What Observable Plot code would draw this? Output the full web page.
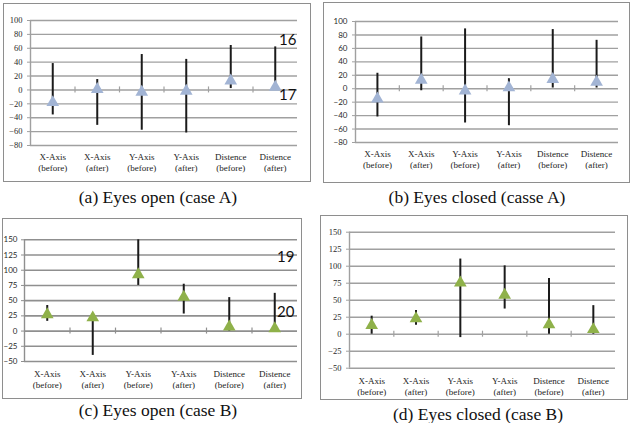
<!DOCTYPE html>
<html>
<head>
<meta charset="utf-8">
<script src="https://cdn.jsdelivr.net/npm/d3@7"></script>
<script src="https://cdn.jsdelivr.net/npm/@observablehq/plot@0.6"></script>
<style>
  html, body { margin: 0; padding: 0; background: #fff; }
  #fig { position: relative; width: 630px; height: 423px; overflow: hidden; background: #fff; }
  .panel { position: absolute; }
  .panel svg { position: absolute; left: 0; top: 0; }
  .box { position: absolute; border: 1.5px solid #8e8e8e; box-sizing: border-box; pointer-events: none; }
  .cap { position: absolute; font-family: "Liberation Serif", "Times New Roman", "DejaVu Serif"; font-size: 17.5px; line-height: 1; white-space: nowrap; color: #111; transform: translate(-50%, -50%); }
  .num { position: absolute; font-family: Lato, "Noto Sans", sans-serif; font-size: 15px; line-height: 1; color: #111; transform: translate(0, -50%); }
</style>
</head>
<body>
<div id="fig"></div>
<script>
// ---- shared categories (x tick labels) ----
const categories = ["X-Axis\n(before)", "X-Axis\n(after)", "Y-Axis\n(before)", "Y-Axis\n(after)", "Distence\n(before)", "Distence\n(after)"];
const categoryCenters = [0.5, 1.5, 2.5, 3.5, 4.5, 5.5];
const categoryBoundaries = [1, 2, 3, 4, 5];

// ---- y tick labels ----
const ticksCaseA = [-80, -60, -40, -20, 0, 20, 40, 60, 80, 100];
const ticksCaseB = [-50, -25, 0, 25, 50, 75, 100, 125, 150];

// ---- (a) Eyes open (case A) ----
const openA_mean = [-18, 1, -3, -1.5, 13, 4];
const openA_low  = [-36, -51, -58, -62, 2, 2];
const openA_high = [38, 15, 51, 44, 64, 62];

// ---- (b) Eyes closed (casse A) ----
const closedA_mean = [-15, 13, -3, 1.5, 14, 10];
const closedA_low  = [-42, -3, -51, -55, 1, 1];
const closedA_high = [23, 77, 89, 15, 88, 72];

// ---- (c) Eyes open (case B) ----
const openB_mean = [27, 22, 93, 56, 7, 4];
const openB_low  = [16, -40, 75, 28, 0, 0];
const openB_high = [42, 24, 150, 77, 55, 62];

// ---- (d) Eyes closed (case B) ----
const closedB_mean = [13, 23, 75.5, 57.5, 14, 7];
const closedB_low  = [0, 13, -5, 37, 0, 0];
const closedB_high = [26.5, 35, 110.5, 100.5, 82, 42];

const serif = "Liberation Serif";
const sans = "Lato";

function table(mean, low, high) {
  return categoryCenters.map((pos, i) => ({pos, mean: mean[i], low: low[i], high: high[i]}));
}

function panel(cfg) {
  const data = table(cfg.mean, cfg.low, cfg.high);
  const grid = cfg.grid || "#a0a0a0";
  return Plot.plot({
    width: cfg.w, height: cfg.h,
    marginLeft: cfg.ml, marginRight: cfg.mr, marginTop: cfg.mt, marginBottom: cfg.mb,
    style: {background: "transparent", overflow: "visible", color: "#222", fontFamily: cfg.tickFont, fontSize: cfg.tickSize + "px"},
    x: {domain: [0, 6], axis: null},
    y: {domain: cfg.domain, axis: null},
    marks: [
      Plot.gridY(cfg.ticks, {stroke: grid, strokeOpacity: 1, strokeWidth: cfg.gridWidth || 1.4}),
      Plot.ruleX([0], {stroke: grid, strokeWidth: 1.4}),
      Plot.ruleX(categoryBoundaries, {x: d => d, y1: 0, y2: 0, insetTop: -3, insetBottom: -3, stroke: grid, strokeWidth: 1.2}),
      Plot.axisY(cfg.ticks, {label: null, tickSize: 3, tickPadding: cfg.tickPad, stroke: grid, fill: "#2a2a2a", fontFamily: cfg.tickFont, fontSize: cfg.tickSize}),
      Plot.axisX(categoryCenters, {label: null, tickSize: 0, tickPadding: cfg.labelPad, tickFormat: d => categories[Math.floor(d)], fontFamily: serif, fontSize: 9, lineHeight: 1.2, fill: "#222"}),
      Plot.ruleX(data, {x: "pos", y1: "low", y2: "high", stroke: "#1b1b1b", strokeWidth: 2}),
      Plot.dot(data, {x: "pos", y: "mean", symbol: "triangle", r: 4.7, fill: cfg.color, stroke: "none"})
    ]
  });
}

const blue = "#a2b4d4";
const green = "#8fb14a";

const panels = [
  {left: 3, top: 3, w: 308, h: 179, ml: 27, mr: 14, mt: 17, mb: 37, domain: [-80, 100], ticks: ticksCaseA,
   mean: openA_mean, low: openA_low, high: openA_high, color: blue, tickFont: serif, tickSize: 8.5, tickPad: 5, labelPad: 7,
   caption: "(a) Eyes open (case A)", cx: 158, cy: 198, nums: [["16", 279, 39], ["17", 279, 94]]},
  {left: 323, top: 2, w: 307, h: 181, ml: 32, mr: 12, mt: 19, mb: 41, domain: [-80, 100], ticks: ticksCaseA,
   mean: closedA_mean, low: closedA_low, high: closedA_high, color: blue, tickFont: sans, tickSize: 8, tickPad: 5, labelPad: 7,
   caption: "(b) Eyes closed (casse A)", cx: 477, cy: 198, nums: []},
  {left: 2, top: 218, w: 300, h: 181, ml: 22, mr: 5, mt: 21.3, mb: 38, domain: [-50, 150], ticks: ticksCaseB,
   mean: openB_mean, low: openB_low, high: openB_high, color: green, tickFont: sans, tickSize: 8, tickPad: 4, labelPad: 8, grid: "#8f8f8f", gridWidth: 1.6,
   caption: "(c) Eyes open (case B)", cx: 158, cy: 411, nums: [["19", 277, 256], ["20", 277, 311]]},
  {left: 320, top: 215, w: 308, h: 185, ml: 29, mr: 13, mt: 16.7, mb: 32.3, domain: [-50, 150], ticks: ticksCaseB,
   mean: closedB_mean, low: closedB_low, high: closedB_high, color: green, tickFont: serif, tickSize: 8.5, tickPad: 5, labelPad: 8,
   caption: "(d) Eyes closed (case B)", cx: 478, cy: 415, nums: []}
];

const fig = document.getElementById("fig");
for (const p of panels) {
  const div = document.createElement("div");
  div.className = "panel";
  div.style.left = p.left + "px";
  div.style.top = p.top + "px";
  div.style.width = p.w + "px";
  div.style.height = p.h + "px";
  div.appendChild(panel(p));
  const box = document.createElement("div");
  box.className = "box";
  box.style.left = "0px"; box.style.top = "0px";
  box.style.width = p.w + "px"; box.style.height = p.h + "px";
  div.appendChild(box);
  fig.appendChild(div);

  const cap = document.createElement("div");
  cap.className = "cap";
  cap.textContent = p.caption;
  cap.style.left = p.cx + "px";
  cap.style.top = p.cy + "px";
  fig.appendChild(cap);

  for (const [t, x, y] of p.nums) {
    const n = document.createElement("div");
    n.className = "num";
    n.textContent = t;
    n.style.left = x + "px";
    n.style.top = y + "px";
    fig.appendChild(n);
  }
}
</script>
</body>
</html>
